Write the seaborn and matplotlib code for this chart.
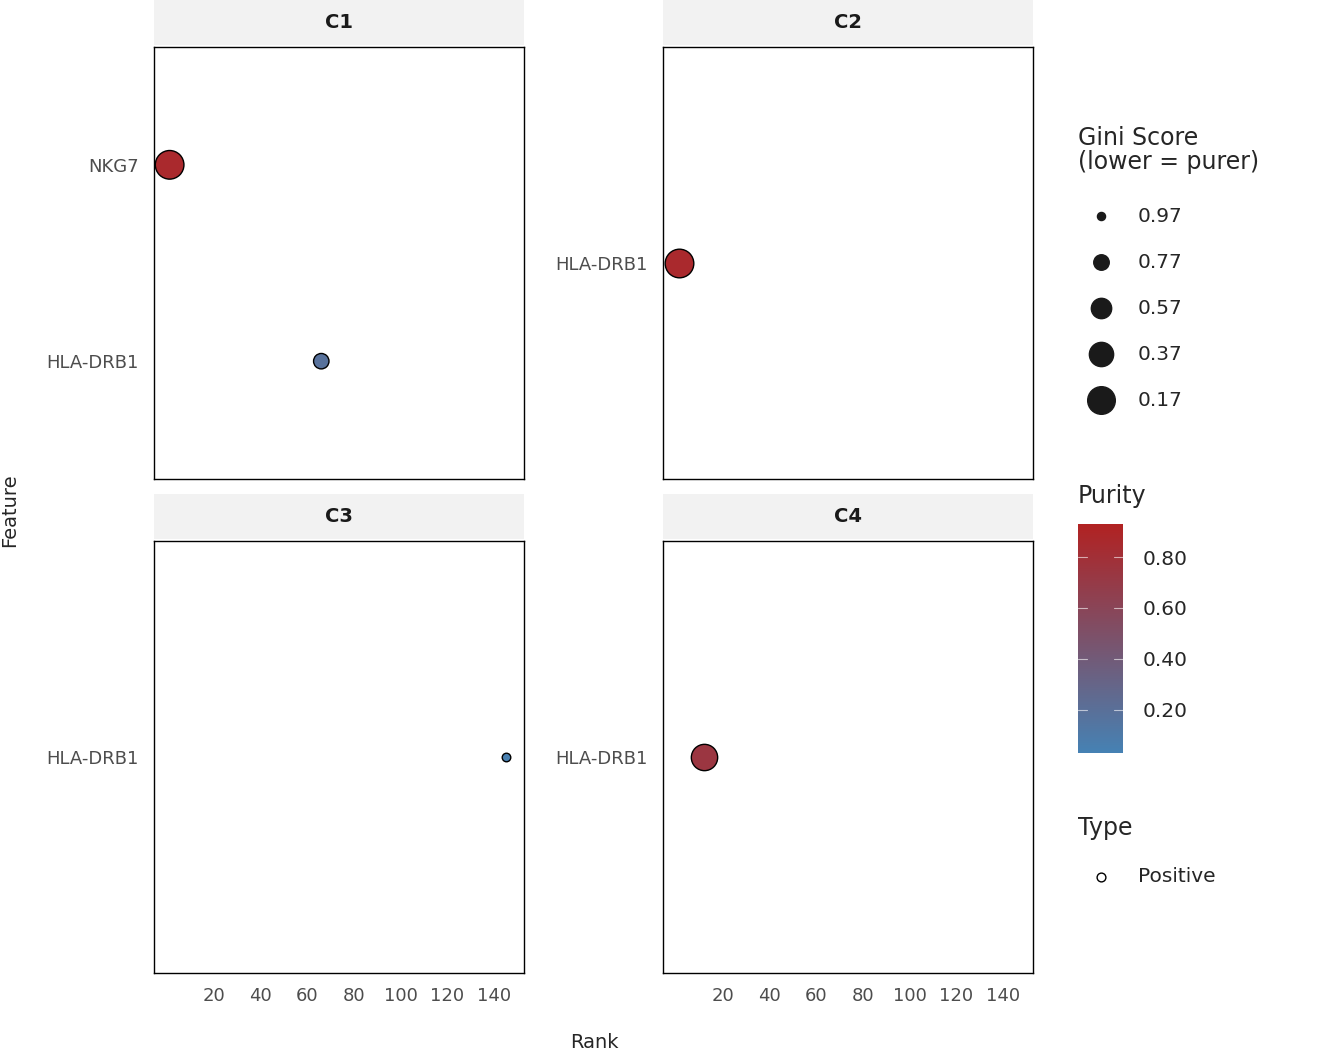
import numpy as np
import pandas as pd
import matplotlib
matplotlib.use("Agg")
import matplotlib.pyplot as plt
import seaborn as sns
from matplotlib.colors import LinearSegmentedColormap

clusters = ["C1", "C1", "C2", "C3", "C4"]
features = ["NKG7", "HLA-DRB1", "HLA-DRB1", "HLA-DRB1", "HLA-DRB1"]
ranks = [1, 66, 1, 145, 12]
purity = [0.86, 0.18, 0.86, 0.05, 0.74]
gini = [0.20, 0.80, 0.20, 0.97, 0.33]
gini_legend = [0.97, 0.77, 0.57, 0.37, 0.17]
purity_ticks = [0.20, 0.40, 0.60, 0.80]

df = pd.DataFrame({"cluster": clusters, "feature": features, "rank": ranks,
                   "purity": purity, "gini": gini})

sns.set_style("white")
plt.rcParams['font.family'] = ['DejaVu Sans']
cmap = LinearSegmentedColormap.from_list("pur", ["#4682B4", "#B22222"])
hnorm = (0.03, 0.93)
SMAX, SMIN = 440, 38

W, H = 1344, 1056
fig = plt.figure(figsize=(W / 100, H / 100), dpi=100)
panels = {"C1": (154, 47), "C2": (663, 47), "C3": (154, 541), "C4": (663, 541)}
for cl, (x0, y0) in panels.items():
    ax = fig.add_axes([x0 / W, 1 - (y0 + 432) / H, 370 / W, 432 / H])
    sub = df[df.cluster == cl]
    levels = list(dict.fromkeys(sub.feature[::-1]))
    sub = sub.assign(ypos=[levels.index(f) + 1 for f in sub.feature])
    sns.scatterplot(data=sub, x="rank", y="ypos", hue="purity", palette=cmap, hue_norm=hnorm,
                    size="gini", sizes=(SMAX, SMIN), size_norm=(0.17, 0.97),
                    edgecolor="black", linewidth=1, legend=False, ax=ax)
    ax.set_xlim(-5.7, 152.9)
    ax.set_ylim(0.4, len(levels) + 0.6)
    ax.set_yticks(range(1, len(levels) + 1), levels)
    ax.set_xticks([20, 40, 60, 80, 100, 120, 140])
    ax.tick_params(colors="#4d4d4d", labelsize=13, length=0)
    ax.tick_params(axis="y", pad=11)
    ax.tick_params(axis="x", pad=10)
    if cl in ("C1", "C2"):
        ax.set_xticklabels([])
    ax.set_xlabel(""); ax.set_ylabel("")
    for s in ax.spines.values():
        s.set_color("black"); s.set_linewidth(1)
    st = fig.add_axes([x0 / W, 1 - (y0 - 2) / H, 370 / W, 45 / H])
    st.set_facecolor("#f2f2f2")
    st.set_xticks([]); st.set_yticks([])
    for s in st.spines.values():
        s.set_visible(False)
    st.text(0.5, 0.5, cl, ha="center", va="center", fontsize=14, fontweight="bold", color="#1a1a1a")

fig.text(594 / W, 1 - 1043 / H, "Rank", ha="center", va="center", fontsize=14)
fig.text(10 / W, 1 - 510 / H, "Feature", ha="center", va="center", fontsize=14, rotation=90)

# Gini size legend
fig.text(1078 / W, 1 - 150 / H, "Gini Score\n(lower = purer)", ha="left", va="center",
         fontsize=17, linespacing=0.95)
lg = fig.add_axes([0, 0, 1, 1], facecolor="none")
lg.set_xlim(0, W); lg.set_ylim(H, 0); lg.axis("off")
for i, g in enumerate(gini_legend):
    y = 216 + i * 46
    s = SMAX + (g - 0.17) / 0.8 * (SMIN - SMAX)
    lg.scatter([1101], [y], s=s * 0.9, color="#1a1a1a")
    lg.text(1138, y, f"{g:.2f}", va="center", fontsize=14.5)

# Purity colorbar
fig.text(1078 / W, 1 - 496 / H, "Purity", ha="left", va="center", fontsize=17)
cax = fig.add_axes([1078 / W, 1 - 753 / H, 45 / W, 229 / H])
grad = np.linspace(hnorm[0], hnorm[1], 256).reshape(-1, 1)
cax.imshow(grad, aspect="auto", origin="lower", cmap=cmap, extent=[0, 1, hnorm[0], hnorm[1]])
cax.set_xticks([])
cax.yaxis.tick_right()
cax.set_yticks(purity_ticks, [f"{t:.2f}" for t in purity_ticks])
cax.tick_params(axis="y", length=0, labelsize=14.5, pad=14)
for t in purity_ticks:
    cax.plot([0, 0.2], [t, t], color="white", lw=0.8, alpha=0.6)
    cax.plot([0.8, 1], [t, t], color="white", lw=0.8, alpha=0.6)
cax.set_xlim(0, 1); cax.set_ylim(hnorm)
for s in cax.spines.values():
    s.set_visible(False)

# Type legend
fig.text(1078 / W, 1 - 828 / H, "Type", ha="left", va="center", fontsize=17)
lg.scatter([1101], [877], s=40, facecolor="white", edgecolor="black", linewidth=1)
lg.text(1138, 877, "Positive", va="center", fontsize=14.5)

fig.savefig("out.png", dpi=100)
